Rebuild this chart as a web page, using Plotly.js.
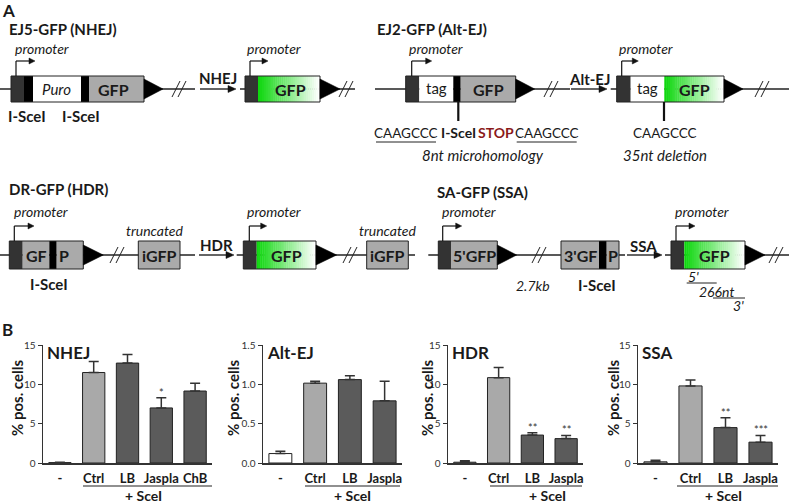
<!DOCTYPE html>
<html><head><meta charset="utf-8">
<script src="https://cdn.plot.ly/plotly-3.0.1.min.js"></script>
<style>html,body{margin:0;padding:0;background:#fff}#chart{width:789px;height:503px}</style>
</head><body><div id="chart"></div>
<script>
// ---------------- data (panel B) ----------------
const nhejCats = ['-', 'Ctrl', 'LB', 'Jaspla', 'ChB'];
const nhejVals = [0.05, 11.5, 12.7, 7.0, 9.15];
const nhejErr  = [0.05, 1.4, 1.1, 1.3, 1.0];
const nhejSig  = ['', '', '', '*', ''];

const altCats = ['-', 'Ctrl', 'LB', 'Jaspla'];
const altVals = [0.12, 1.015, 1.06, 0.79];
const altErr  = [0.03, 0.025, 0.05, 0.25];
const altSig  = ['', '', '', ''];

const hdrCats = ['-', 'Ctrl', 'LB', 'Jaspla'];
const hdrVals = [0.1, 10.85, 3.55, 3.1];
const hdrErr  = [0.2, 1.3, 0.3, 0.4];
const hdrSig  = ['', '', '**', '**'];

const ssaCats = ['-', 'Ctrl', 'LB', 'Jaspla'];
const ssaVals = [0.15, 9.8, 4.5, 2.65];
const ssaErr  = [0.2, 0.75, 1.25, 0.85];
const ssaSig  = ['', '', '**', '***'];

const ticks15 = [0, 5, 10, 15];
const ticks15Text = ['0', '5', '10', '15'];
const ticks1p5 = [0, 0.5, 1.0, 1.5];
const ticks1p5Text = ['0.0', '0.5', '1.0', '1.5'];

// ---------------- helpers ----------------
const W = 789, H = 503;
const F = 'Lato, "Open Sans", sans-serif';
const X = x => x / W, Y = y => 1 - y / H;
const shapes = [], ann = [];
function rect(x0, y0, x1, y1, fill, lc, lw) {
  shapes.push({type:'rect', xref:'paper', yref:'paper', x0:X(x0), x1:X(x1), y0:Y(y1), y1:Y(y0),
    fillcolor: fill, line:{color: lc || 'rgba(0,0,0,0)', width: lw || 0}});
}
function seg(x0, y0, x1, y1, c, w) {
  shapes.push({type:'line', xref:'paper', yref:'paper', x0:X(x0), y0:Y(y0), x1:X(x1), y1:Y(y1),
    line:{color: c || '#222', width: w || 1.2}});
}
function poly(pts, fill) {
  const d = 'M' + pts.map(p => X(p[0]) + ',' + Y(p[1])).join(' L') + ' Z';
  shapes.push({type:'path', xref:'paper', yref:'paper', path:d, fillcolor:fill, line:{color:fill, width:0.5}});
}
function arrow(x0, x1, y, head, hw, w) {
  seg(x0, y, x1 - head + 1, y, '#111', w);
  poly([[x1 - head, y - hw], [x1, y], [x1 - head, y + hw]], '#111');
}
function txt(x, y, t, size, opt) {
  opt = opt || {};
  ann.push({xref:'paper', yref:'paper', x:X(x), y:Y(y), text:t, showarrow:false,
    xanchor: opt.anchor || 'center', yanchor:'middle', textangle: opt.angle || 0,
    font:{family:F, size:size, color: opt.color || '#1a1a1a'}});
}
function grad(x0, y0, x1, y1) {
  const n = 32;
  for (let i = 0; i < n; i++) {
    const t = i / (n - 1);
    const r = Math.round(15 + (255 - 15) * t), g = Math.round(215 + (255 - 215) * t), b = Math.round(15 + (255 - 15) * t);
    const xa = x0 + (x1 - x0) * i / n, xb = x0 + (x1 - x0) * (i + 1) / n + 0.4;
    rect(xa, y0, Math.min(xb, x1), y1, `rgb(${r},${g},${b})`);
  }
}
function box(segs, y0, y1) {
  segs.forEach(s => { if (s[2] === 'grad') grad(s[0], y0, s[1], y1); else rect(s[0], y0, s[1], y1, s[2]); });
  rect(segs[0][0], y0, segs[segs.length - 1][1], y1, 'rgba(0,0,0,0)', '#222', 1);
}
function tri(x0, yc, len, hh) { poly([[x0, yc - hh], [x0 + len, yc], [x0, yc + hh]], '#000'); }
function slash(xc, yc) { seg(xc - 9, yc + 8, xc - 1, yc - 8, '#222', 1); seg(xc - 3, yc + 8, xc + 5, yc - 8, '#222', 1); }
function promoter(x, ybox, x1, ytop) {
  seg(x, ybox, x, ytop, '#111', 1.2);
  arrow(x, x1, ytop, 6, 3, 1.2);
}

// font sizes
const S_T = 15, S_P = 14, S_L = 15, S_G = 16, S_S = 15;

// ---------------- Panel A diagrams ----------------
txt(0, 11, '<b>A</b>', 17, {anchor:'left'});
txt(0, 329, '<b>B</b>', 17, {anchor:'left'});

// EJ5-GFP (NHEJ)
txt(7, 29, '<b>EJ5-GFP (NHEJ)</b>', S_T, {anchor:'left'});
seg(0, 89, 195, 89, '#222', 1.3);
box([[11, 24, '#333'], [24, 33, '#000'], [33, 81, '#ffffff'], [81, 89, '#000'], [89, 144, '#aaaaaa']], 76, 102);
tri(144, 89, 19, 10);
slash(181, 89);
txt(57, 89, '<i>Puro</i>', S_S);
txt(114, 89, '<b>GFP</b>', S_G);
promoter(16, 76, 35, 61);
txt(13, 48, '<i>promoter</i>', S_P, {anchor:'left'});
txt(27, 116, '<b>I-SceI</b>', S_L);
txt(81, 116, '<b>I-SceI</b>', S_L);
txt(218, 78, '<b>NHEJ</b>', S_T);
arrow(200, 236, 89, 8, 3.5, 1.3);
seg(240, 89, 355, 89, '#222', 1.3);
box([[245, 258, '#333'], [258, 320, 'grad']], 76, 102);
tri(320, 89, 20, 10);
slash(348, 89);
txt(290, 89, '<b>GFP</b>', S_G);
promoter(250, 76, 268, 61);
txt(245, 48, '<i>promoter</i>', S_P, {anchor:'left'});

// EJ2-GFP (Alt-EJ)
txt(375, 29, '<b>EJ2-GFP (Alt-EJ)</b>', S_T, {anchor:'left'});
seg(375, 89, 570, 89, '#222', 1.3);
box([[405.7, 419.3, '#333'], [419.3, 453.3, '#ffffff'], [453.3, 460.7, '#000'], [460.7, 515.7, '#aaaaaa']], 76, 102);
tri(515.7, 89, 19, 10);
slash(553, 89);
txt(436, 88, 'tag', S_S);
txt(488, 89, '<b>GFP</b>', S_G);
promoter(411.7, 76, 431.7, 61);
txt(407, 48, '<i>promoter</i>', S_P, {anchor:'left'});
seg(458.3, 102, 458.3, 121, '#111', 2.2);
txt(406, 133, 'CAAGCCC', 13.5);
seg(376, 142, 436, 142, '#222', 1);
txt(458.5, 133, '<b>I-SceI</b>', 14);
txt(496, 133, '<b>STOP</b>', 14, {color:'#8b1a1a'});
txt(546.7, 133, 'CAAGCCC', 13.5);
seg(516.7, 142, 576.7, 142, '#222', 1);
txt(483, 155, '<i>8nt microhomology</i>', S_S);
txt(589, 79, '<b>Alt-EJ</b>', S_T);
arrow(571, 607, 89, 8, 3.5, 1.3);
seg(610.7, 89, 789, 89, '#222', 1.3);
box([[616.7, 630.7, '#333'], [630.7, 664.3, '#ffffff'], [664.3, 724, 'grad']], 76, 102);
tri(724, 89, 19, 10);
slash(764, 89);
txt(647.5, 88, 'tag', S_S);
txt(694, 89, '<b>GFP</b>', S_G);
promoter(621.7, 76, 638.3, 61);
txt(617, 48, '<i>promoter</i>', S_P, {anchor:'left'});
seg(664, 102, 664, 121, '#111', 2.2);
txt(665, 133, 'CAAGCCC', 13.5);
txt(665, 155, '<i>35nt deletion</i>', S_S);

// DR-GFP (HDR)
txt(7, 189, '<b>DR-GFP (HDR)</b>', S_T, {anchor:'left'});
seg(0, 255, 195, 255, '#222', 1.3);
box([[9.3, 22.7, '#333'], [22.7, 49.3, '#aaaaaa'], [49.3, 56.7, '#000'], [56.7, 83.3, '#aaaaaa']], 241, 269);
txt(36, 255, '<b>GF</b>', S_G);
txt(64, 255, '<b>P</b>', S_G);
tri(83.3, 255, 20, 10);
slash(119, 255);
box([[138.3, 180, '#aaaaaa']], 241, 269);
txt(159, 255, '<b>iGFP</b>', S_G);
txt(155, 230, '<i>truncated</i>', S_P);
txt(49, 284, '<b>I-SceI</b>', S_L);
promoter(14.3, 241, 34, 226);
txt(12, 211.7, '<i>promoter</i>', S_P, {anchor:'left'});
txt(216, 245, '<b>HDR</b>', S_T);
arrow(199, 234, 255, 8, 3.5, 1.3);
seg(236.7, 255, 415, 255, '#222', 1.3);
box([[243.3, 256.7, '#333'], [256.7, 316, 'grad']], 241, 269);
txt(286, 255, '<b>GFP</b>', S_G);
tri(316, 255, 20.7, 10);
slash(352, 255);
box([[366.7, 408.3, '#aaaaaa']], 241, 269);
txt(387.5, 255, '<b>iGFP</b>', S_G);
txt(388, 230, '<i>truncated</i>', S_P);
promoter(249.3, 241, 266.7, 226);
txt(245, 211.7, '<i>promoter</i>', S_P, {anchor:'left'});

// SA-GFP (SSA)
txt(435, 192, '<b>SA-GFP (SSA)</b>', S_T, {anchor:'left'});
seg(428.3, 255, 625, 255, '#222', 1.3);
box([[438.3, 451, '#333'], [451, 497.3, '#aaaaaa']], 241, 269);
txt(474, 255, "<b>5'GFP</b>", S_G);
tri(497.3, 255, 19.4, 10);
slash(541, 255);
box([[561, 599, '#aaaaaa'], [599, 606.7, '#000'], [606.7, 619, '#aaaaaa']], 241, 269);
txt(580, 255, "<b>3'GF</b>", S_G);
txt(613, 255, '<b>P</b>', S_G);
txt(533, 285, '<i>2.7kb</i>', S_P);
txt(597, 285, '<b>I-SceI</b>', S_L);
promoter(442.7, 241, 461.7, 226);
txt(440, 211.7, '<i>promoter</i>', S_P, {anchor:'left'});
txt(643, 246, '<b>SSA</b>', S_T);
arrow(627, 662, 255, 8, 3.5, 1.3);
seg(665, 255, 789, 255, '#222', 1.3);
box([[671, 684.3, '#333'], [684.3, 745, 'grad']], 241, 269);
txt(714, 255, '<b>GFP</b>', S_G);
tri(745, 255, 20, 10);
slash(778, 255);
promoter(676, 241, 695, 226);
txt(673, 211.7, '<i>promoter</i>', S_P, {anchor:'left'});
txt(693, 276, "<i>5'</i>", S_P);
seg(686.7, 283, 716.7, 283, '#222', 1);
txt(716, 291, '<i>266nt</i>', S_P);
seg(713, 298, 745, 298, '#222', 1);
txt(738, 305, "<i>3'</i>", S_P);

// ---------------- Panel B bar charts ----------------
const panels = [
  {cats: nhejCats, vals: nhejVals, err: nhejErr, sig: nhejSig, name: 'NHEJ', range: [0, 15], tv: ticks15, tt: ticks15Text, px: [43, 212], ytx: 17, sce: [83, 212, 143]},
  {cats: altCats, vals: altVals, err: altErr, sig: altSig, name: 'Alt-EJ', range: [0, 1.5], tv: ticks1p5, tt: ticks1p5Text, px: [263, 402], ytx: 233, sce: [305, 400, 352]},
  {cats: hdrCats, vals: hdrVals, err: hdrErr, sig: hdrSig, name: 'HDR', range: [0, 15], tv: ticks15, tt: ticks15Text, px: [448, 583], ytx: 427, sce: [490, 582, 547]},
  {cats: ssaCats, vals: ssaVals, err: ssaErr, sig: ssaSig, name: 'SSA', range: [0, 15], tv: ticks15, tt: ticks15Text, px: [638, 778], ytx: 613, sce: [677, 778, 723]}
];
const barColor = c => c === '-' ? '#ffffff' : (c === 'Ctrl' ? '#a9a9a9' : '#5b5b5b');
const yBot = 463, yTop = 345;
const traces = [];
const layout = {
  width: W, height: H, margin: {l:0, r:0, t:0, b:0}, paper_bgcolor:'#fff', plot_bgcolor:'rgba(0,0,0,0)',
  showlegend: false, font: {family: F, color: '#1a1a1a'}
};
panels.forEach((p, i) => {
  const k = i === 0 ? '' : String(i + 1);
  traces.push({
    type: 'bar', x: p.cats, y: p.vals, xaxis: 'x' + k, yaxis: 'y' + k, width: 0.66,
    marker: {color: p.cats.map(barColor), line: {color: '#222', width: 1}},
    error_y: {type: 'data', symmetric: false, array: p.err, arrayminus: p.err.map(() => 0), color: '#333', thickness: 1.5, width: 5},
    hoverinfo: 'skip'
  });
  layout['xaxis' + k] = {domain: [X(p.px[0]), X(p.px[1])], anchor: 'y' + k, type: 'category', range: [-0.5, p.cats.length - 0.5],
    showline: true, linecolor: '#333', linewidth: 1.5, ticks: 'outside', ticklen: 3, tickcolor: 'rgba(0,0,0,0)',
    tickangle: 0, tickfont: {family: F, size: 13, color: '#1a1a1a'}, showgrid: false, zeroline: false, fixedrange: true,
    tickvals: p.cats, ticktext: p.cats.map(c => '<b>' + c + '</b>')};
  layout['yaxis' + k] = {domain: [Y(yBot), Y(yTop)], anchor: 'x' + k, range: p.range, tickvals: p.tv, ticktext: p.tt,
    showline: true, linecolor: '#333', linewidth: 1.5, ticks: 'outside', ticklen: 4, tickcolor: '#333', tickwidth: 1,
    tickfont: {family: F, size: 10, color: '#333'}, showgrid: false, zeroline: false, fixedrange: true};
  txt(p.px[0] + 2, 352, '<b>' + p.name + '</b>', 17, {anchor: 'left'});
  txt(p.ytx, 398, '<b>% pos. cells</b>', 15, {angle: -90});
  seg(p.sce[0], 486, p.sce[1], 486, '#222', 1.2);
  txt(p.sce[2], 495, '<b>+ SceI</b>', 14);
  p.sig.forEach((s, j) => {
    if (s) ann.push({xref: 'x' + k, yref: 'y' + k, x: p.cats[j], y: p.vals[j] + p.err[j], text: s, showarrow: false,
      yanchor: 'bottom', yshift: -3, font: {family: F, size: 11, color: '#333'}});
  });
});
layout.shapes = shapes;
layout.annotations = ann;
Plotly.newPlot('chart', traces, layout, {displayModeBar: false, staticPlot: true});
</script></body></html>
